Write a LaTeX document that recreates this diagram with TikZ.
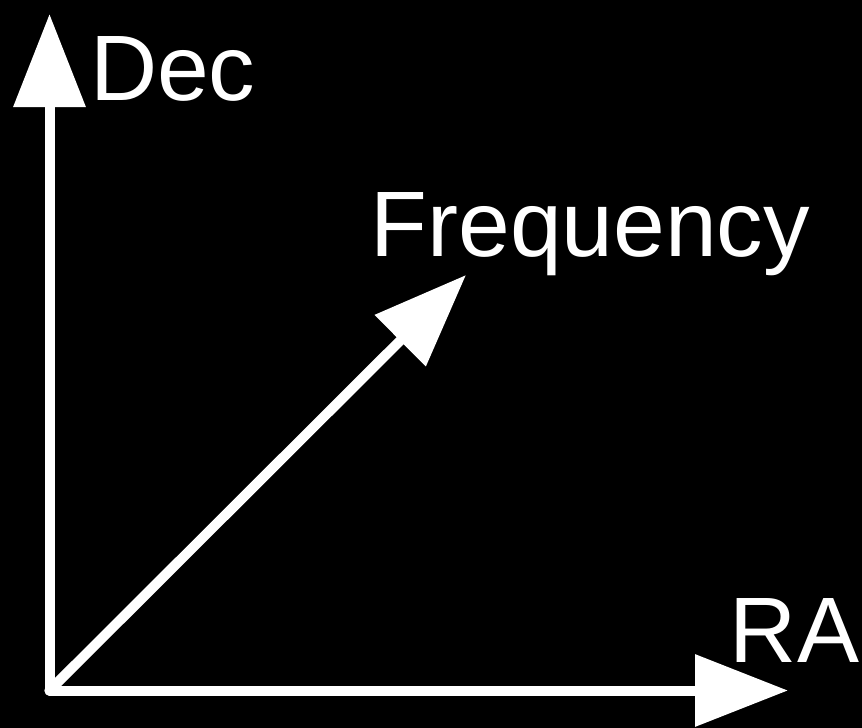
\documentclass[tikz,border=0pt]{standalone}
\usepackage{fontspec}
\setmainfont{Liberation Sans}
\usetikzlibrary{arrows.meta}
\begin{document}
\begin{tikzpicture}[x=1pt,y=-1pt,
  axis/.style={draw=white,line width=10pt,line cap=round,
    -{Triangle[length=93pt,width=70pt]}},
  lbl/.style={text=white,inner sep=0pt,anchor=base west,
    font=\fontsize{93pt}{100pt}\selectfont}]
\fill[black] (0,0) rectangle (862,728);
\useasboundingbox (0,0) rectangle (862,728);
\coordinate (O) at (49.5,690.5);
\coordinate (ytip) at (49.5,14);
\coordinate (xtip) at (788,690.5);
\coordinate (ftip) at (466,275);
\draw[axis] (O) -- (ytip);
\draw[axis] (O) -- (xtip);
\draw[axis] (O) -- (ftip);
\node[lbl] (dec) at (89.8,100) {Dec};
\node[lbl] (freq) at (370.4,256) {Frequency};
\node[lbl] (ra) at (729.7,662) {RA};
\end{tikzpicture}
\end{document}
